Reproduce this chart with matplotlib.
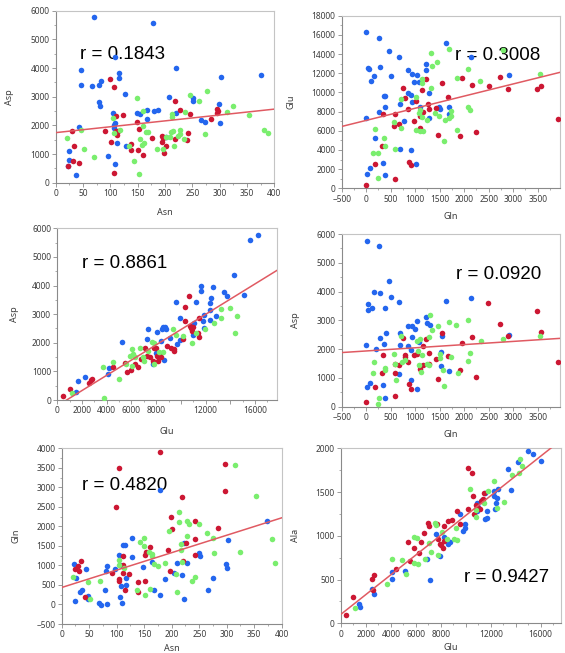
import numpy as np
import matplotlib
matplotlib.use("Agg")
import matplotlib.pyplot as plt
from matplotlib.ticker import AutoMinorLocator

# ---- panel 1: Asn vs Asp ----
p1_blue_x = [70, 178, 46, 221, 108, 116, 115, 83, 79, 46, 67, 127, 80, 81, 43, 104, 108, 107, 107, 113, 128, 149, 154,
             167, 167, 179, 187, 208, 221, 252, 252, 302, 376, 299, 301, 265, 274, 201, 25, 25, 22, 38, 95, 108]
p1_blue_y = [5770, 5580, 3940, 3990, 4370, 3830, 3640, 3560, 3410, 3420, 3370, 3100, 2800, 2690, 1940, 2430, 2090, 2010,
             1900, 1380, 1280, 2420, 2410, 2230, 2540, 2490, 2540, 2980, 2440, 2940, 2860, 3670, 3770, 2760, 2070, 2190,
             2130, 1600, 1120, 790, 590, 280, 920, 650]
p1_red_x = [99, 106, 30, 34, 32, 43, 23, 90, 101, 106, 111, 123, 110, 114, 112, 137, 138, 149, 152, 151, 160, 177, 195,
            196, 195, 198, 201, 219, 227, 219, 243, 241, 245, 285, 296, 297, 295]
p1_red_y = [3620, 3330, 1790, 1290, 740, 670, 600, 1790, 1410, 350, 2340, 2360, 1810, 1790, 1660, 1350, 1150, 2120, 1870,
            1140, 970, 1550, 1630, 1570, 1410, 1040, 1290, 2860, 2540, 1520, 1750, 1490, 2410, 2220, 2580, 2500, 2420]
p1_green_x = [21, 46, 51, 70, 105, 107, 117, 135, 144, 149, 154, 153, 159, 160, 165, 168, 162, 158, 186, 196, 202, 212,
              212, 215, 211, 209, 216, 223, 227, 228, 237, 246, 263, 276, 274, 314, 324, 353, 382, 389, 234]
p1_green_y = [1560, 1830, 1160, 910, 2270, 1720, 1850, 1280, 740, 2940, 1520, 300, 2510, 1990, 1770, 1780, 1370, 1300,
              1160, 1160, 1580, 2400, 2300, 1810, 1780, 1580, 1280, 1630, 1840, 1700, 2470, 3050, 2850, 3200, 1700, 2480,
              2670, 2350, 1830, 1740, 1510]

# ---- panel 2: Gln vs Glu ----
p2_blue_x = [0, 252, 470, 660, 1628, 41, 48, 279, 150, 102, 497, 851, 933, 1042, 1212, 1226, 981, 1069, 361, 388, 388,
             265, 681, 844, 913, 940, 1090, 1287, 1696, 1485, 1512, 1682, 1273, 763, 0, 184, 347, 381, 82, 14, 688, 919,
             1022, 2138, 2915]
p2_blue_y = [16330, 15640, 14350, 13730, 15190, 12510, 12400, 12650, 11680, 11220, 11680, 12340, 11880, 11850, 12370,
             12930, 11050, 11050, 9660, 9660, 8510, 7990, 8760, 9900, 9730, 9000, 8510, 9900, 8440, 8510, 8240, 7710,
             7330, 6980, 7300, 5210, 2640, 1360, 2090, 1530, 4100, 4030, 2500, 13660, 11820]
p2_red_x = [0, 592, 184, 320, 872, 906, 340, 579, 572, 660, 756, 797, 851, 974, 1015, 1096, 1096, 1144, 1212, 1164, 1267,
            1273, 1416, 1471, 1546, 1662, 1907, 1961, 2159, 2241, 2499, 2738, 2901, 3487, 3562, 3909]
p2_red_y = [310, 940, 2500, 4450, 2710, 2470, 7780, 7750, 6460, 6670, 10430, 9450, 8270, 7050, 9140, 7580, 6250, 10250,
            11360, 7990, 8830, 8240, 8410, 5590, 10950, 9520, 5490, 11540, 10810, 5910, 10670, 11570, 10390, 10360,
            10700, 7190]
p2_green_x = [238, 143, 238, 170, 368, 374, 592, 572, 715, 715, 1022, 1008, 1103, 1164, 1069, 1096, 1137, 1246, 1314,
              1130, 1130, 1321, 1348, 1444, 1682, 1410, 1491, 1587, 1723, 1730, 1689, 1859, 1846, 2070, 2077, 2125, 2329,
              2799, 3555, 1614]
p2_green_y = [1040, 3650, 3720, 6190, 5280, 4450, 4140, 6880, 6250, 9280, 9560, 6080, 6010, 5940, 7890, 8170, 7470, 7090,
              10430, 10980, 11400, 14140, 12720, 13200, 14530, 7890, 7580, 4930, 7540, 8030, 7370, 6120, 11500, 12410,
              8510, 8170, 11190, 14420, 11920, 7120]

# ---- panel 3: Glu vs Asp ----
p3_blue_x = [16210, 15560, 14290, 11600, 11600, 12620, 13490, 13700, 15130, 12460, 12350, 9630, 11190, 9920, 12380,
             12810, 12330, 11870, 11760, 11030, 10950, 11870, 8580, 8710, 8440, 8820, 7360, 8040, 7250, 8360, 9120, 9710,
             9920, 5230, 7740, 8630, 8010, 1650, 2270, 1510, 4150, 4070]
p3_blue_y = [5770, 5590, 4370, 4000, 3820, 3950, 3790, 3650, 3670, 3550, 3380, 3420, 3420, 2850, 3150, 2940, 2800, 2970,
             2770, 2700, 2260, 2520, 2560, 2540, 2470, 2470, 2470, 2380, 2120, 2070, 2160, 1950, 2100, 2020, 1250, 1390,
             1630, 660, 820, 290, 1110, 920]
p3_red_x = [430, 1050, 2590, 2700, 2810, 4480, 5470, 5610, 5930, 6280, 6500, 6770, 7120, 7250, 7520, 7740, 7820, 7980,
            8040, 8120, 8310, 8390, 8850, 9170, 9410, 9410, 10300, 10630, 10170, 10330, 10730, 10920, 10790, 11490, 11350,
            11490, 11000]
p3_red_y = [140, 370, 590, 700, 750, 1170, 1290, 970, 1050, 1270, 1150, 1430, 1820, 1550, 1510, 1370, 1830, 1810, 1540,
            1370, 1600, 1500, 1880, 1830, 1710, 1780, 3260, 3630, 2120, 2770, 2600, 2420, 2530, 2850, 2330, 2210, 2550]
p3_green_x = [1210, 3670, 3780, 4500, 5010, 5560, 5910, 6010, 6150, 6260, 6070, 6720, 6900, 7040, 7660, 7790, 7360, 8250,
              8520, 9360, 9570, 10920, 11250, 11950, 13240, 13240, 12680, 13970, 14510, 14400, 10190, 7790]
p3_green_y = [260, 1170, 80, 1320, 730, 1260, 1550, 1770, 1610, 1510, 1190, 1810, 1510, 1370, 2040, 1260, 1720, 1670,
              1690, 2470, 2270, 2000, 2350, 2470, 3190, 2850, 2680, 3200, 2950, 2340, 2240, 1980]

# ---- panel 4: Gln vs Asp ----
p4_blue_x = [7, 252, 470, 150, 279, 497, 674, 41, 116, 34, 374, 1634, 2138, 0, 191, 279, 361, 395, 681, 695, 851, 933,
             988, 940, 1042, 851, 906, 1069, 1212, 1301, 1246, 1546, 1532, 1518, 1689, 2915, 14, 75, 340, 388, 674, 919,
             1035]
p4_blue_y = [5755, 5590, 4380, 3995, 3940, 3810, 3650, 3555, 3430, 3370, 3420, 3680, 3760, 2130, 2010, 2400, 2190, 2550,
             2550, 2130, 2790, 2790, 2710, 2410, 2980, 2110, 1970, 2250, 3100, 2840, 2920, 2460, 1900, 1400, 1250, 2500,
             670, 810, 750, 300, 1120, 930, 600]
p4_red_x = [0, 184, 320, 340, 592, 579, 592, 660, 756, 783, 783, 851, 872, 906, 974, 1029, 1090, 1096, 1151, 1164, 1212,
            1273, 1273, 1423, 1464, 1553, 1662, 1907, 1961, 2166, 2247, 2492, 2738, 2901, 3494, 3562, 3909]
p4_red_y = [160, 670, 1180, 1790, 1480, 1160, 380, 1440, 2390, 1780, 1710, 1560, 780, 610, 1810, 1830, 1420, 1300, 2120,
            1450, 2340, 1850, 1500, 1660, 970, 2550, 1760, 1290, 2220, 2420, 1040, 3610, 2860, 2440, 3320, 2580, 1550]
p4_green_x = [163, 143, 252, 245, 374, 388, 565, 586, 599, 715, 729, 783, 1035, 1056, 1069, 1096, 1117, 1137, 1239, 1287,
              1308, 1348, 1287, 1457, 1498, 1512, 1559, 1580, 1689, 1730, 1839, 1873, 2070, 2077, 2125, 2336, 2799, 3555]
p4_green_y = [1560, 1170, 290, 90, 1330, 1270, 1830, 1500, 930, 2470, 1560, 1620, 2280, 1950, 1440, 2350, 1200, 1790,
              1500, 1440, 3170, 2670, 2430, 2800, 1830, 1690, 1270, 730, 2930, 1740, 2840, 1180, 3020, 1600, 1850, 2290,
              2340, 2470]

# ---- panel 5: Asn vs Gln ----
p5_blue_x = [22, 26, 25, 37, 33, 44, 47, 47, 67, 71, 81, 82, 79, 83, 97, 104, 106, 107, 106, 110, 112, 115, 116, 117, 127,
             127, 148, 165, 168, 179, 179, 187, 205, 209, 219, 222, 228, 250, 252, 266, 275, 299, 300, 302, 373, 222]
p5_blue_y = [1030, 680, 80, 360, 330, 900, 220, 140, 40, -10, 870, 990, 380, 20, 900, 1280, 1020, 470, 180, 30, 1530,
             1520, 670, 500, 1690, 1220, 950, 1080, 380, 2920, 240, 660, 810, 1060, 760, 150, 1050, 1310, 1240, 360, 680,
             1040, 930, 1640, 2140, 1570]
p5_red_x = [24, 30, 32, 35, 43, 92, 99, 105, 105, 104, 111, 112, 111, 115, 123, 138, 138, 151, 152, 153, 161, 179, 194,
            197, 199, 201, 218, 221, 226, 243, 243, 242, 285, 296, 296]
p5_red_y = [920, 980, 870, 1120, 200, 800, 2500, 3500, 640, 590, 1230, 1010, 800, 360, 770, 580, 330, 600, 1260, 1350,
            1470, 3910, 1390, 870, 2250, 1930, 2750, 1120, 1570, 2150, 1680, 1280, 1950, 3590, 2910]
p5_green_x = [20, 47, 52, 70, 105, 105, 113, 136, 143, 150, 150, 152, 158, 160, 164, 164, 167, 175, 187, 195, 208, 210,
              214, 214, 216, 217, 218, 227, 228, 231, 236, 242, 249, 264, 275, 276, 315, 324, 354, 382, 388]
p5_green_y = [710, 580, 140, 590, 1140, 1010, 930, 370, 1590, 1700, 1510, 240, 1350, 390, 1290, 1230, 1030, 990, 1060,
              1890, 770, 330, 2360, 2100, 1560, 1400, 1100, 2150, 1750, 2060, 590, 710, 2060, 1840, 1700, 1330, 3560,
              1350, 2790, 1670, 1060]

# ---- panel 6: Glu vs Ala ----
p6_blue_x = [14960, 15390, 16050, 14160, 13360, 13600, 12610, 12290, 12260, 12530, 12420, 12310, 11540, 11300, 10900,
             11000, 10930, 11700, 11540, 11700, 9540, 9910, 9940, 9780, 7640, 8280, 8520, 8600, 8760, 7960, 6920, 7160,
             4060, 4060, 5130, 2510, 2640, 1440, 1550]
p6_blue_y = [1970, 1940, 1850, 1840, 1760, 1520, 1530, 1510, 1460, 1430, 1370, 1310, 1490, 1410, 1380, 1330, 1280, 1280,
             1190, 1200, 1250, 1130, 1090, 1060, 1020, 990, 950, 910, 930, 770, 730, 500, 590, 510, 600, 390, 330, 220, 190]
p6_red_x = [370, 960, 2510, 2670, 2540, 4380, 5400, 5530, 5820, 6220, 6380, 6680, 7000, 7080, 7670, 7800, 7930, 8010, 8150,
            8230, 8280, 8600, 8870, 9300, 9560, 10150, 10520, 10150, 10600, 10680, 10790, 10920, 11220, 11380, 11460,
            11140]
p6_red_y = [90, 300, 510, 550, 380, 620, 930, 710, 860, 800, 930, 1030, 1150, 1110, 1130, 960, 910, 890, 860, 1110, 940,
            1170, 1180, 1280, 1130, 1780, 1720, 1310, 1450, 1250, 1350, 1330, 1400, 1420, 1490, 1310]
p6_green_x = [1120, 3660, 4110, 4890, 5240, 5880, 6090, 5820, 6200, 6730, 7020, 7180, 7560, 7590, 7750, 8070, 8470, 9080,
              9190, 9270, 10360, 10790, 10840, 11490, 11810, 12260, 12530, 13090, 13680, 14260, 14370, 14480]
p6_green_y = [180, 450, 730, 720, 560, 990, 970, 690, 680, 730, 920, 810, 1150, 1120, 780, 1040, 960, 960, 1090, 950, 1530,
              1210, 1290, 1380, 1510, 1630, 1320, 1390, 1690, 1720, 1880, 1800]

x_labels = ["Asn", "Gln", "Glu", "Gln", "Asn", "Glu"]
y_labels = ["Asp", "Glu", "Asp", "Asp", "Gln", "Ala"]
r_texts = ["r = 0.1843", "r = 0.3008", "r = 0.8861", "r = 0.0920", "r = 0.4820", "r = 0.9427"]

blue, red, green = "#2466ee", "#cc1733", "#7aee6e"
W, H = 565, 653

# pixel boxes (left, right, top, bottom)
boxes = [(55.7, 274.3, 10.7, 182.7), (341.7, 560.3, 15.7, 188.3),
         (57.3, 276.7, 228.3, 400), (341.7, 560.3, 234, 406.7),
         (61.7, 281.7, 448.3, 624), (341, 561, 448.3, 623.3)]
xlims = [(0, 400), (-500, 3963), (0, 17750), (-500, 3963), (0, 400), (0, 17630)]
ylims = [(0, 6000), (0, 18000), (0, 6000), (0, 6000), (-500, 4000), (0, 2000)]
xticks = [np.arange(0, 401, 50), np.arange(-500, 3501, 500), np.arange(0, 16001, 2000),
          np.arange(-500, 3501, 500), np.arange(0, 401, 50), np.arange(0, 16001, 2000)]
yticks = [np.arange(0, 6001, 1000), np.arange(0, 18001, 2000), np.arange(0, 6001, 1000),
          np.arange(0, 6001, 1000), np.arange(-500, 4001, 500), np.arange(0, 2001, 500)]
text_pos = [(0.111, 0.748), (0.518, 0.767), (0.114, 0.796), (0.523, 0.768), (0.094, 0.791), (0.559, 0.26)]
ylab_x = [-0.19, -0.21, -0.175, -0.19, -0.186, -0.186]
xlab_y = [-0.147, -0.138, -0.157, -0.135, -0.112, -0.112]

data = [
    (p1_blue_x, p1_blue_y, p1_red_x, p1_red_y, p1_green_x, p1_green_y),
    (p2_blue_x, p2_blue_y, p2_red_x, p2_red_y, p2_green_x, p2_green_y),
    (p3_blue_x, p3_blue_y, p3_red_x, p3_red_y, p3_green_x, p3_green_y),
    (p4_blue_x, p4_blue_y, p4_red_x, p4_red_y, p4_green_x, p4_green_y),
    (p5_blue_x, p5_blue_y, p5_red_x, p5_red_y, p5_green_x, p5_green_y),
    (p6_blue_x, p6_blue_y, p6_red_x, p6_red_y, p6_green_x, p6_green_y),
]

fig = plt.figure(figsize=(W / 100, H / 100), dpi=100)
tick_font = "Noto Sans"

for i, (bx, by, rx, ry, gx, gy) in enumerate(data):
    l, r, t, b = boxes[i]
    ax = fig.add_axes([l / W, 1 - b / H, (r - l) / W, (b - t) / H])
    ax.scatter(bx, by, s=16, color=blue, linewidths=0, zorder=3)
    ax.scatter(rx, ry, s=16, color=red, linewidths=0, zorder=3)
    ax.scatter(gx, gy, s=16, color=green, linewidths=0, zorder=3)

    # least squares line through all points
    allx = np.array(bx + rx + gx, dtype=float)
    ally = np.array(by + ry + gy, dtype=float)
    k, c = np.polyfit(allx, ally, 1)
    xs = np.array(xlims[i])
    ax.plot(xs, k * xs + c, color="#e05a62", lw=1.1, zorder=4)

    ax.set_xlim(*xlims[i])
    ax.set_ylim(*ylims[i])
    ax.set_xticks(xticks[i])
    ax.set_yticks(yticks[i])
    if i in (2, 5):
        ax.set_xticklabels(["" if v in (10000, 14000) else str(v) for v in xticks[i]])
    ax.xaxis.set_minor_locator(AutoMinorLocator(2))
    ax.yaxis.set_minor_locator(AutoMinorLocator(2))
    ax.tick_params(which="both", direction="out", color="#8a8a8a", labelsize=6, labelcolor="#3c3c3c", pad=1.5)
    ax.tick_params(which="major", length=3, width=0.6)
    ax.tick_params(which="minor", length=1.5, width=0.5)
    for lab in ax.get_xticklabels() + ax.get_yticklabels():
        lab.set_family(tick_font)
    for sp in ax.spines.values():
        sp.set_color("#c4c4c4")
        sp.set_linewidth(0.8)
    ax.spines["left"].set_color("#8a8a8a")
    ax.spines["bottom"].set_color("#8a8a8a")

    ax.set_xlabel(x_labels[i], fontsize=6.5, color="#3c3c3c", family=tick_font)
    ax.set_ylabel(y_labels[i], fontsize=6.5, color="#3c3c3c", family=tick_font)
    ax.xaxis.set_label_coords(0.5, xlab_y[i])
    ax.yaxis.set_label_coords(ylab_x[i], 0.5)

    ax.text(text_pos[i][0], text_pos[i][1], r_texts[i], transform=ax.transAxes, fontsize=13.5,
            family="Liberation Sans", ha="left", va="center", color="black", zorder=2)

fig.savefig("out.png", dpi=100)
